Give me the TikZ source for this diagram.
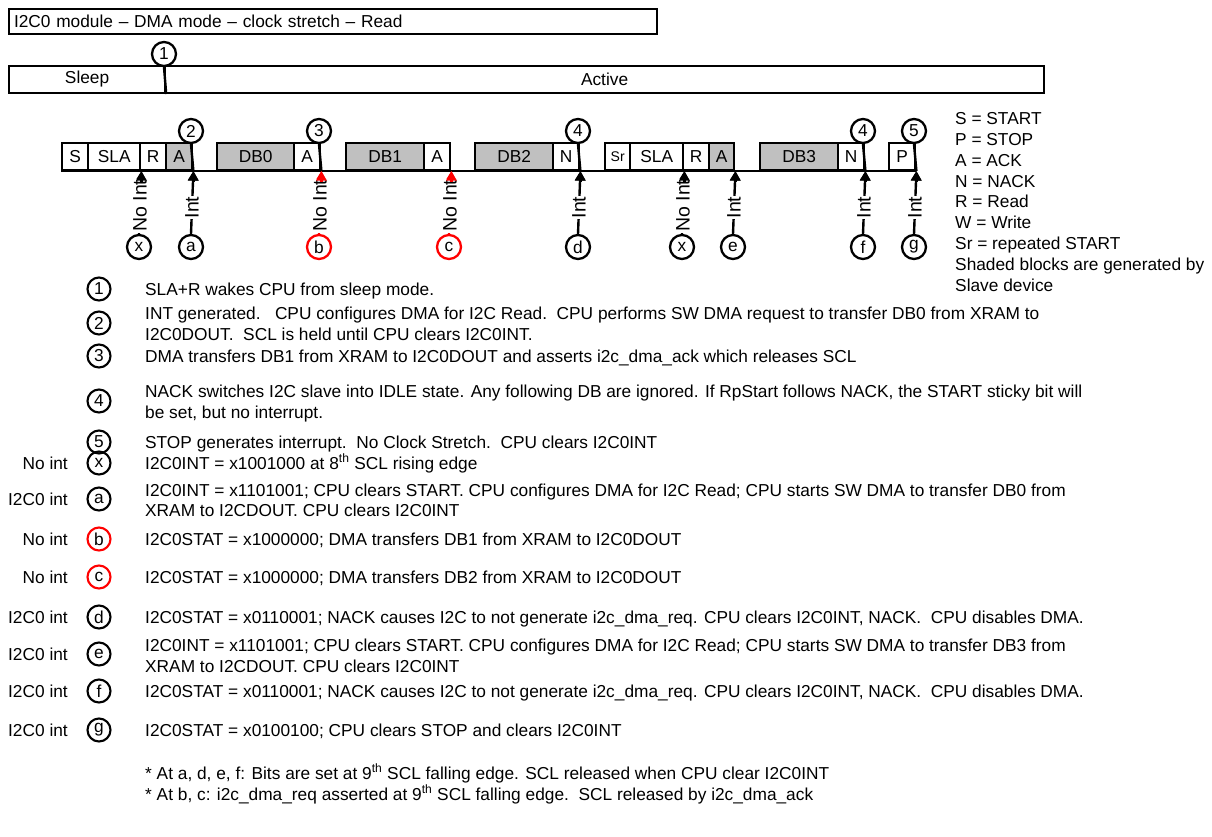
\documentclass[tikz,border=0pt]{standalone}
\usepackage{fontspec}
\setmainfont{Liberation Sans}
\usetikzlibrary{arrows.meta}
\definecolor{shade}{RGB}{192,192,192}
\newcommand\fs{\fontsize{17.3}{21}\selectfont}
\newcommand\fss{\fontsize{14}{16}\selectfont}
\newcommand\fsl{\fontsize{19.5}{22}\selectfont}
% connector: colour, from, to, label position, label
\newcommand\conn[5]{%
  \draw[arr,#1] (#2.north) -- node[lab, pos=#4] {#5} (#3);
  \draw[arr,#1] ([yshift=-11pt]#3) -- (#3);}
\begin{document}
\begin{tikzpicture}[x=1pt,y=-1pt,
  every node/.style={font=\fs},
  busbox/.style={draw, line width=2.4pt, minimum height=27pt, inner sep=0pt, anchor=south west},
  grey/.style={fill=shade},
  circ/.style={draw, circle, line width=2.3pt, minimum size=24pt, inner sep=0pt},
  dcirc/.style={draw, circle, line width=2.1pt, minimum size=23pt, inner sep=0pt},
  redc/.style={draw=red},
  ln/.style={line width=2.4pt},
  arr/.style={line width=2.4pt, -{Triangle[length=9.5pt,width=10pt]}},
  lab/.style={rotate=90, fill=white, inner sep=1pt, text=black, font=\fsl},
  txt/.style={anchor=base west, inner sep=0pt},
  ltxt/.style={anchor=base east, inner sep=0pt}
]
\useasboundingbox (0,0) rectangle (1212,836);

% title
\node[draw, line width=2pt, anchor=north west, minimum height=25pt, text width=638pt, inner xsep=5pt, inner ysep=0pt, align=left] (title) at (8,8) {I2C0 module -- DMA mode -- clock stretch -- Read};

% sleep / active
\node[draw, line width=2.2pt, anchor=south west, minimum width=156pt, minimum height=27pt, inner sep=0pt] (sleep) at (8,94) {Sleep};
\node[draw, line width=2.2pt, anchor=south west, minimum width=879pt, minimum height=27pt, inner sep=0pt] (active) at (164,94) {Active};
\node[circ] (c1) at (164,54) {1};
\draw[ln] (c1.south) -- (sleep.south east);

% bus boxes
\node[busbox, minimum width=26pt] (S) at (61,171) {S};
\node[busbox, minimum width=52pt] (SLA) at (87,171) {SLA};
\node[busbox, minimum width=26pt] (R) at (139,171) {R};
\node[busbox, grey, minimum width=26pt] (A1) at (165,171) {A};
\node[busbox, grey, minimum width=77pt] (DB0) at (216,171) {DB0};
\node[busbox, minimum width=26pt] (A2) at (293,171) {A};
\node[busbox, grey, minimum width=78pt] (DB1) at (345,171) {DB1};
\node[busbox, minimum width=26pt] (A3) at (423,171) {A};
\node[busbox, grey, minimum width=78pt] (DB2) at (474,171) {DB2};
\node[busbox, minimum width=26pt] (N1) at (552,171) {N};
\node[busbox, minimum width=25pt, font=\fss] (Sr) at (604,171) {Sr};
\node[busbox, minimum width=53pt] (SLA2) at (629,171) {SLA};
\node[busbox, minimum width=26pt] (R2) at (682,171) {R};
\node[busbox, grey, minimum width=25pt] (A4) at (708,171) {A};
\node[busbox, grey, minimum width=78pt] (DB3) at (759,171) {DB3};
\node[busbox, minimum width=26pt] (N2) at (837,171) {N};
\node[busbox, minimum width=26pt] (P) at (888,171) {P};
\draw[ln] (S.south west) -- (P.south east);

% upper circles
\node[circ] (u2) at (191,131) {2};
\node[circ] (u3) at (319,131) {3};
\node[circ] (u4) at (578,131) {4};
\node[circ] (u4b) at (863,131) {4};
\node[circ] (u5) at (914,131) {5};
\draw[ln] (u2.south) -- (A1.south east);
\draw[ln] (u3.south) -- (A2.south east);
\draw[ln] (u4.south) -- (N1.south east);
\draw[ln] (u4b.south) -- (N2.south east);
\draw[ln] (u5.south) -- (P.south east);

% lower circles and arrows
\node[circ] (lx) at (139,247) {x};
\node[circ] (la) at (191,247) {a};
\node[circ, redc] (lb) at (319,247) {b};
\node[circ, redc] (lc) at (449,247) {c};
\node[circ] (ld) at (578,247) {d};
\node[circ] (lx2) at (682,247) {x};
\node[circ] (le) at (733,247) {e};
\node[circ] (lf) at (863,247) {f};
\node[circ] (lg) at (914,247) {g};
\conn{black}{lx}{SLA.south east}{0.45}{No Int}
\conn{black}{la}{A1.south east}{0.42}{Int}
\conn{red}{lb}{A2.south east}{0.45}{No Int}
\conn{red}{lc}{A3.south east}{0.45}{No Int}
\conn{black}{ld}{N1.south east}{0.42}{Int}
\conn{black}{lx2}{SLA2.south east}{0.45}{No Int}
\conn{black}{le}{A4.south east}{0.42}{Int}
\conn{black}{lf}{N2.south east}{0.42}{Int}
\conn{black}{lg}{P.south east}{0.42}{Int}

% legend
\node[txt] (k1) at (955,124) {S = START};
\node[txt] (k2) at (955,145) {P = STOP};
\node[txt] (k3) at (955,166) {A = ACK};
\node[txt] (k4) at (955,187) {N = NACK};
\node[txt] (k5) at (955,207) {R = Read};
\node[txt] (k6) at (955,228) {W = Write};
\node[txt] (k7) at (955,249) {Sr = repeated START};
\node[txt] (k8) at (955,270) {Shaded blocks are generated by};
\node[txt] (k9) at (955,291) {Slave device};

% numbered descriptions
\node[dcirc] (d1) at (99,289) {1};
\node[txt] (t1) at (145,295) {SLA+R wakes CPU from sleep mode.};
\node[dcirc] (d2) at (99,323) {2};
\node[txt] (t2a) at (145,319) {INT generated.\ \ \ CPU configures DMA for I2C Read.\ \ CPU performs SW DMA request to transfer DB0 from XRAM to};
\node[txt] (t2b) at (145,340) {I2C0DOUT.\ \ SCL is held until CPU clears I2C0INT.};
\node[dcirc] (d3) at (99,356) {3};
\node[txt] (t3) at (145,362) {DMA transfers DB1 from XRAM to I2C0DOUT and asserts i2c\_dma\_ack which releases SCL};
\node[dcirc] (d4) at (99,401) {4};
\node[txt] (t4a) at (145,397) {NACK switches I2C slave into IDLE state. Any following DB are ignored. If RpStart follows NACK, the START sticky bit will};
\node[txt] (t4b) at (145,418) {be set, but no interrupt.};
\node[dcirc] (d5) at (99,442) {5};
\node[txt] (t5) at (145,448) {STOP generates interrupt.\ \ No Clock Stretch.\ \ CPU clears I2C0INT};

% lettered descriptions
\node[ltxt] (lbx) at (68,469) {No int};
\node[dcirc] (ex) at (99,463) {x};
\node[txt] (tx) at (145,469) {I2C0INT = x1001000 at 8\textsuperscript{th} SCL rising edge};

\node[ltxt] (lba) at (68,505) {I2C0 int};
\node[dcirc] (ea) at (99,499) {a};
\node[txt] (ta1) at (145,496) {I2C0INT = x1101001; CPU clears START. CPU configures DMA for I2C Read; CPU starts SW DMA to transfer DB0 from};
\node[txt] (ta2) at (145,516) {XRAM to I2CDOUT. CPU clears I2C0INT};

\node[ltxt] (lbb) at (68,545) {No int};
\node[dcirc, redc] (eb) at (99,539) {b};
\node[txt] (tb) at (145,545) {I2C0STAT = x1000000; DMA transfers DB1 from XRAM to I2C0DOUT};

\node[ltxt] (lbc) at (68,583) {No int};
\node[dcirc, redc] (ec) at (99,577) {c};
\node[txt] (tc) at (145,583) {I2C0STAT = x1000000; DMA transfers DB2 from XRAM to I2C0DOUT};

\node[ltxt] (lbd) at (68,623) {I2C0 int};
\node[dcirc] (ed) at (99,617) {d};
\node[txt] (td) at (145,623) {I2C0STAT = x0110001; NACK causes I2C to not generate i2c\_dma\_req. CPU clears I2C0INT, NACK.\ \ CPU disables DMA.};

\node[ltxt] (lbe) at (68,660) {I2C0 int};
\node[dcirc] (ee) at (99,654) {e};
\node[txt] (te1) at (145,651) {I2C0INT = x1101001; CPU clears START. CPU configures DMA for I2C Read; CPU starts SW DMA to transfer DB3 from};
\node[txt] (te2) at (145,672) {XRAM to I2CDOUT. CPU clears I2C0INT};

\node[ltxt] (lbf) at (68,697) {I2C0 int};
\node[dcirc] (ef) at (99,691) {f};
\node[txt] (tf) at (145,697) {I2C0STAT = x0110001; NACK causes I2C to not generate i2c\_dma\_req. CPU clears I2C0INT, NACK.\ \ CPU disables DMA.};

\node[ltxt] (lbg) at (68,736) {I2C0 int};
\node[dcirc] (eg) at (99,730) {g};
\node[txt] (tg) at (145,736) {I2C0STAT = x0100100; CPU clears STOP and clears I2C0INT};

% footnotes
\node[txt] (f1) at (145,779) {* At a, d, e, f: Bits are set at 9\textsuperscript{th} SCL falling edge. SCL released when CPU clear I2C0INT};
\node[txt] (f2) at (145,800) {* At b, c: i2c\_dma\_req asserted at 9\textsuperscript{th} SCL falling edge.\ \ SCL released by i2c\_dma\_ack};
\end{tikzpicture}
\end{document}
